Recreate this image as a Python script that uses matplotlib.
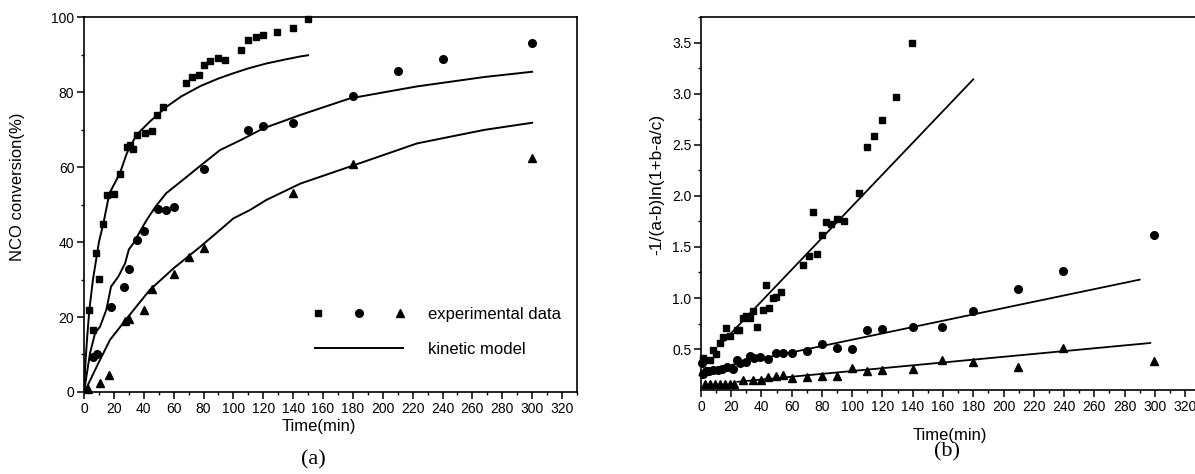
import numpy as np
import matplotlib.pyplot as plt
from matplotlib.lines import Line2D
from matplotlib.legend_handler import HandlerTuple
from matplotlib.ticker import MultipleLocator

plt.rcParams['font.family'] = ['Liberation Sans', 'DejaVu Sans']

# ---- panel (a): NCO conversion vs time ----
sq_t = [3.6, 5.8, 8, 9.8, 12.9, 15.2, 20, 24, 28.6, 30.8, 32.6, 35.3, 40.9, 45.3, 48.7, 53.2,
        68, 72, 77.3, 80.4, 84.4, 90, 94.5, 105, 110, 115.3, 120, 129, 140, 150]
sq_conv = [21.9, 16.5, 37.2, 30.1, 44.8, 52.5, 52.8, 58.1, 65.4, 65.9, 64.7, 68.5, 69, 69.6, 73.9, 75.9,
           82.3, 83.9, 84.5, 87.2, 88.4, 89, 88.5, 91.2, 94, 94.6, 95.2, 95.9, 97.2, 99.6]
ci_t = [6.2, 8.9, 18.1, 26.8, 30.2, 35.7, 40, 49.8, 55, 60, 80, 110, 120, 140, 180, 210, 240, 300]
ci_conv = [9.4, 10.1, 22.8, 28.1, 32.7, 40.5, 43, 48.7, 48.5, 49.4, 59.6, 70, 70.9, 71.8, 78.9, 85.7, 88.8, 93.2]
tr_t = [3, 10.7, 17, 27.5, 30.4, 40, 45.3, 60, 70, 80, 140, 180, 300]
tr_conv = [0.7, 2.3, 4.4, 19, 19.6, 21.9, 27.4, 31.6, 35.9, 38.5, 53.2, 60.7, 62.5]

m1_t = [0, 1, 2, 3.6, 6, 8, 10, 13, 17, 24, 28.6, 35, 44, 55, 65, 78, 90, 100, 110, 122, 135, 145, 150]
m1_conv = [0, 8, 14, 22, 30, 35, 40, 45, 53, 58.3, 63.6, 68.5, 72.1, 76.0, 78.8, 81.6, 83.6, 85, 86.3,
           87.6, 88.7, 89.5, 89.8]
m2_t = [0, 4, 7.4, 10.7, 15, 18.1, 23, 27.5, 30, 33, 37.5, 42, 48, 55, 66, 80, 91, 105, 120, 145,
        178, 223, 268, 300]
m2_conv = [0, 10.3, 15.7, 17.4, 22, 28.1, 30.8, 34.3, 38, 39.6, 42.8, 45.9, 49.5, 53, 56.5, 61, 64.5,
           67.2, 70.3, 73.9, 78.3, 81.5, 84, 85.4]
m3_t = [0, 2, 10, 17.4, 28.6, 44, 60, 78, 91, 100, 111, 122, 145, 178, 223, 268, 300]
m3_conv = [0, 1.4, 8, 13.9, 19.6, 27.2, 33, 38.8, 43.2, 46.3, 48.5, 51.2, 55.6, 60.1, 66.3, 69.9, 71.8]

# ---- panel (b): linearised kinetics ----
bsq_t = [1.5, 6, 7.7, 9.9, 12.6, 14.8, 16.5, 19.2, 23.6, 25, 28, 29.8, 32.4, 34.6, 37.3, 40.8, 43, 44.8,
         47.9, 49.6, 52.7, 67.7, 71.7, 73.9, 76.6, 79.9, 82.7, 85.8, 89.7, 94.5, 104.5, 109.6, 114.6,
         119.5, 128.8, 139.8]
bsq_y = [0.41, 0.39, 0.49, 0.45, 0.56, 0.62, 0.71, 0.63, 0.69, 0.69, 0.80, 0.82, 0.80, 0.87, 0.72, 0.88,
         1.13, 0.90, 1.0, 1.01, 1.06, 1.32, 1.41, 1.84, 1.43, 1.62, 1.74, 1.72, 1.77, 1.75, 2.03, 2.48,
         2.59, 2.74, 2.97, 3.50]
bci_t = [0.5, 1.5, 3, 5, 8, 11, 14, 17, 21, 23.6, 26, 29.8, 32.4, 35, 39, 44.5, 49.6, 54.5, 60, 69.9,
         79.8, 89.7, 99.6, 110, 119.9, 140, 159.6, 179.6, 209.8, 239.6, 299.7]
bci_y = [0.36, 0.26, 0.29, 0.29, 0.30, 0.30, 0.31, 0.33, 0.31, 0.39, 0.36, 0.37, 0.43, 0.41, 0.42, 0.40,
         0.46, 0.46, 0.46, 0.48, 0.55, 0.51, 0.50, 0.69, 0.70, 0.72, 0.72, 0.87, 1.09, 1.26, 1.62]
btr_t = [2.6, 6, 9.3, 12.6, 15.9, 19.2, 21.8, 28, 34.6, 40, 44.5, 49.6, 54.5, 60, 69.9, 79.8, 89.7,
         99.6, 110, 119.9, 140, 159.6, 179.6, 209.8, 239.6, 299.7]
btr_y = [0.16, 0.16, 0.16, 0.16, 0.16, 0.16, 0.16, 0.20, 0.20, 0.20, 0.23, 0.24, 0.25, 0.22, 0.23, 0.24,
         0.24, 0.32, 0.29, 0.30, 0.31, 0.39, 0.37, 0.33, 0.51, 0.38]

fit_sq_t, fit_sq_y = [15, 180], [0.58, 3.14]
fit_ci_t, fit_ci_y = [0, 290], [0.283, 1.18]
fit_tr_t, fit_tr_y = [24, 297], [0.18, 0.56]

fig = plt.figure(figsize=(11.95, 4.74), dpi=100)
ax1 = fig.add_axes([0.0703, 0.1730, 0.4125, 0.7911])
ax2 = fig.add_axes([0.5866, 0.1772, 0.4134, 0.7869])

ms = 5
ax1.plot(sq_t, sq_conv, 's', color='k', ms=ms, clip_on=False)
ax1.plot(ci_t, ci_conv, 'o', color='k', ms=ms + 0.5, clip_on=False)
ax1.plot(tr_t, tr_conv, '^', color='k', ms=ms + 1, clip_on=False)
for t, c in [(m1_t, m1_conv), (m2_t, m2_conv), (m3_t, m3_conv)]:
    ax1.plot(t, c, '-', color='k', lw=1.4)

ax1.set_xlim(0, 330)
ax1.set_ylim(0, 100)
ax1.xaxis.set_minor_locator(MultipleLocator(10))
ax1.yaxis.set_major_locator(MultipleLocator(20))
ax1.yaxis.set_minor_locator(MultipleLocator(10))
ax1.set_xticks(np.arange(0, 321, 20))
ax1.set_xlabel('Time(min)', fontsize=12, va='center')
ax1.xaxis.set_label_coords(0.477, -0.093)
ax1.set_ylabel('NCO conversion(%)', fontsize=12, va='center')
ax1.yaxis.set_label_coords(-0.134, 0.547)

h_sq = Line2D([], [], marker='s', ls='none', color='k', ms=ms)
h_ci = Line2D([], [], marker='o', ls='none', color='k', ms=ms + 0.5)
h_tr = Line2D([], [], marker='^', ls='none', color='k', ms=ms + 1)
h_ln = Line2D([], [], ls='-', color='k', lw=1.4)
ax1.legend([(h_sq, h_ci, h_tr), h_ln], ['experimental data', 'kinetic model'],
           handler_map={tuple: HandlerTuple(ndivide=None, pad=2.1)},
           loc='upper left', bbox_to_anchor=(0.4686, 0.226), frameon=False, fontsize=12,
           handlelength=5.28, handletextpad=1.5, labelspacing=1.17, borderpad=0, borderaxespad=0)

ax2.plot(bsq_t, bsq_y, 's', color='k', ms=ms, clip_on=False)
ax2.plot(bci_t, bci_y, 'o', color='k', ms=ms + 0.5, clip_on=False)
ax2.plot(btr_t, btr_y, '^', color='k', ms=ms + 1, clip_on=False)
ax2.plot(fit_sq_t, fit_sq_y, '-', color='k', lw=1.3)
ax2.plot(fit_ci_t, fit_ci_y, '-', color='k', lw=1.3)
ax2.plot(fit_tr_t, fit_tr_y, '-', color='k', lw=1.3)

ax2.set_xlim(0, 326.6)
ax2.set_ylim(0.1, 3.75)
ax2.set_xticks(np.arange(0, 321, 20))
ax2.xaxis.set_minor_locator(MultipleLocator(10))
ax2.set_yticks(np.arange(0.5, 3.51, 0.5))
ax2.yaxis.set_minor_locator(MultipleLocator(0.25))
ax2.spines['right'].set_visible(False)
ax2.set_xlabel('Time(min)', fontsize=12, va='center')
ax2.xaxis.set_label_coords(0.504, -0.121)
ax2.set_ylabel('-1/(a-b)ln(1+b-a/c)', fontsize=12.5, va='center')
ax2.yaxis.set_label_coords(-0.089, 0.552)

for ax in (ax1, ax2):
    for s in ax.spines.values():
        s.set_linewidth(1.2)
    ax.tick_params(which='major', direction='out', length=5, width=1.1, labelsize=10, pad=2)
    ax.tick_params(which='minor', direction='out', length=2.5, width=1.0)
    ax.tick_params(top=False, right=False, which='both')

fig.text(0.262, 0.0295, '(a)', family=['Liberation Serif', 'DejaVu Serif'], fontsize=16,
         ha='center', va='center')
fig.text(0.7925, 0.0464, '(b)', family=['Liberation Serif', 'DejaVu Serif'], fontsize=16,
         ha='center', va='center')

fig.savefig('out.png', dpi=100)
